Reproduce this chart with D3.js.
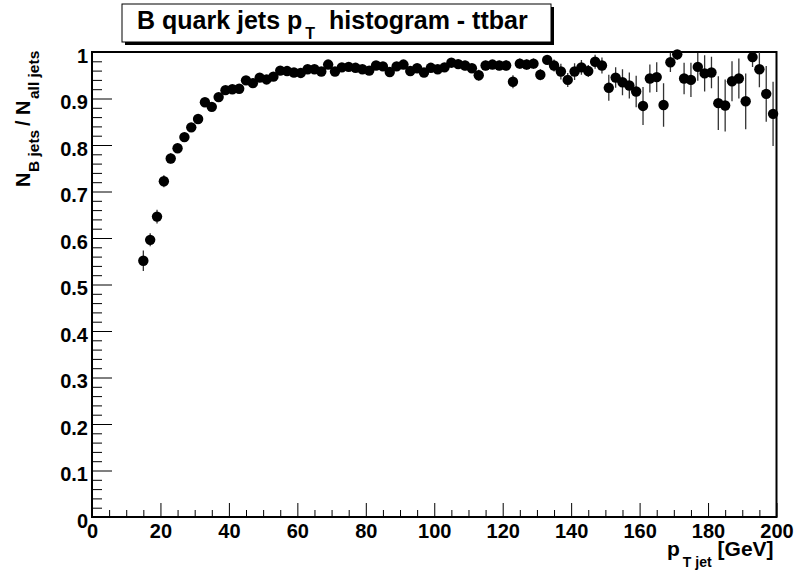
<!DOCTYPE html>
<html>
<head>
<meta charset="utf-8">
<script src="https://cdn.jsdelivr.net/npm/d3@7"></script>
<style>
  body { margin: 0; background: #fff; }
  svg text { font-family: "Liberation Sans", Arial, sans-serif; font-weight: bold; fill: #000; }
</style>
</head>
<body>
<div id="graph"></div>
<script>
// bin centres (GeV) and ratio values
var binCenters = [15,17,19,21,23,25,27,29,31,33,35,37,39,41,43,45,47,49,51,53,
  55,57,59,61,63,65,67,69,71,73,75,77,79,81,83,85,87,89,91,93,95,97,99,101,103,
  105,107,109,111,113,115,117,119,121,123,125,127,129,131,133,135,137,139,141,143,
  145,147,149,151,153,155,157,159,161,163,165,167,169,171,173,175,177,179,181,183,
  185,187,189,191,193,195,197,199];

var ratio = [0.551,0.596,0.646,0.722,0.771,0.793,0.817,0.838,0.856,0.892,0.882,0.903,
  0.918,0.920,0.921,0.939,0.933,0.945,0.941,0.947,0.960,0.959,0.956,0.955,0.963,0.963,
  0.958,0.973,0.958,0.967,0.968,0.966,0.963,0.960,0.971,0.969,0.957,0.969,0.973,0.959,
  0.965,0.956,0.966,0.963,0.967,0.977,0.974,0.971,0.965,0.950,0.971,0.973,0.971,0.971,
  0.936,0.975,0.973,0.975,0.951,0.983,0.971,0.958,0.940,0.958,0.967,0.959,0.979,0.971,
  0.923,0.945,0.935,0.928,0.915,0.884,0.943,0.946,0.886,0.978,0.995,0.943,0.940,0.968,
  0.954,0.956,0.890,0.885,0.937,0.943,0.894,0.989,0.963,0.910,0.867];

var ratioErr = [0.022,0.014,0.015,0.013,0.011,0.010,0.009,0.009,0.008,0.007,0.007,0.007,
  0.006,0.006,0.006,0.006,0.006,0.006,0.006,0.006,0.006,0.006,0.006,0.006,0.006,0.006,
  0.007,0.007,0.007,0.007,0.007,0.007,0.007,0.007,0.008,0.008,0.008,0.008,0.008,0.008,
  0.008,0.009,0.009,0.009,0.009,0.009,0.010,0.010,0.010,0.012,0.010,0.010,0.010,0.011,
  0.014,0.011,0.011,0.011,0.012,0.010,0.013,0.017,0.015,0.018,0.016,0.013,0.015,0.017,
  0.028,0.022,0.028,0.028,0.034,0.041,0.030,0.032,0.047,0.021,0.012,0.034,0.037,0.030,
  0.039,0.034,0.058,0.056,0.043,0.043,0.060,0.021,0.039,0.060,0.069];

var xMajor = [0,20,40,60,80,100,120,140,160,180,200];
var yMajor = [0,0.1,0.2,0.3,0.4,0.5,0.6,0.7,0.8,0.9,1];

var W = 798, H = 576;
var frame = {left: 92, right: 776.5, top: 52, bottom: 517};

var svg = d3.select("#graph").append("svg")
  .attr("width", W)
  .attr("height", H);

var x = d3.scaleLinear().domain([0, 200]).range([frame.left, frame.right]);
var y = d3.scaleLinear().domain([0, 1]).range([frame.bottom, frame.top]);

var data = binCenters.map(function(c, i) {
  return {x: c, v: ratio[i], e: ratioErr[i]};
});

// title box with shadow
svg.append("rect")
  .attr("x", 125).attr("y", 7).attr("width", 429).attr("height", 38)
  .attr("fill", "#000");
svg.append("rect")
  .attr("x", 122).attr("y", 4).attr("width", 429).attr("height", 38)
  .attr("fill", "#fff").attr("stroke", "#000").attr("stroke-width", 1);

var title = svg.append("text")
  .attr("x", 137).attr("y", 28.5)
  .style("font-size", "25px");
title.append("tspan").text("B quark jets p");
title.append("tspan").attr("dx", 3).attr("dy", 10.5).style("font-size", "16px").text("T");
title.append("tspan").attr("dx", 7).attr("dy", -10.5).text(" histogram - ttbar");

// minor ticks
var yMinor = d3.range(0, 1.0001, 0.02).filter(function(t) {
  return Math.abs(t * 10 - Math.round(t * 10)) > 1e-6;
});
var xMinor = d3.range(0, 200.001, 5).filter(function(t) { return t % 20 !== 0; });

svg.append("g")
  .attr("class", "y axis minor")
  .attr("transform", "translate(" + frame.left + ",0)")
  .call(d3.axisLeft(y).tickValues(yMinor).tickSize(-10).tickFormat(""))
  .call(function(g) { g.select(".domain").remove(); });

svg.append("g")
  .attr("class", "x axis minor")
  .attr("transform", "translate(0," + frame.bottom + ")")
  .call(d3.axisBottom(x).tickValues(xMinor).tickSize(-7).tickFormat(""))
  .call(function(g) { g.select(".domain").remove(); });

var yAxis = svg.append("g")
  .attr("class", "y axis")
  .attr("transform", "translate(" + frame.left + ",0)")
  .call(d3.axisLeft(y).tickValues(yMajor).tickSize(-20).tickPadding(4)
    .tickFormat(function(d) { return d === 0 || d === 1 ? d3.format("d")(d) : d3.format(".1f")(d); }));
yAxis.select(".domain").remove();
yAxis.selectAll("text")
  .attr("dy", "0.5em")
  .style("font-size", "20px")
  .style("font-family", null);

var xAxis = svg.append("g")
  .attr("class", "x axis")
  .attr("transform", "translate(0," + frame.bottom + ")")
  .call(d3.axisBottom(x).tickValues(xMajor).tickSize(-14).tickPadding(7));
xAxis.select(".domain").remove();
xAxis.selectAll("text")
  .style("font-size", "20px")
  .style("font-family", null);

svg.selectAll(".axis line").attr("stroke", "#000").attr("stroke-width", 1);

// frame
svg.append("rect")
  .attr("x", frame.left).attr("y", frame.top)
  .attr("width", frame.right - frame.left).attr("height", frame.bottom - frame.top)
  .attr("fill", "none").attr("stroke", "#000").attr("stroke-width", 2);

// axis titles
var yTitle = svg.append("text")
  .attr("transform", "translate(30,187) rotate(-90)")
  .style("font-size", "20px");
yTitle.append("tspan").attr("x", 0).attr("y", 0).text("N");
yTitle.append("tspan").attr("x", 15).attr("y", 9).style("font-size", "15.5px").text("B jets");
yTitle.append("tspan").attr("x", 61).attr("y", 0).text("/ N");
yTitle.append("tspan").attr("x", 88).attr("y", 9).style("font-size", "15.5px").text("all jets");

var xTitle = svg.append("text")
  .attr("x", 667).attr("y", 556)
  .style("font-size", "21px");
xTitle.append("tspan").text("p");
xTitle.append("tspan").attr("dx", 3).attr("dy", 11).style("font-size", "14px").text("T jet");
xTitle.append("tspan").attr("dx", 6).attr("dy", -11).text("[GeV]");

// data
svg.append("clipPath").attr("id", "plotclip")
  .append("rect")
  .attr("x", frame.left).attr("y", frame.top)
  .attr("width", frame.right - frame.left).attr("height", frame.bottom - frame.top);

var pts = svg.append("g").attr("class", "points");

pts.append("g").attr("clip-path", "url(#plotclip)")
  .selectAll("line")
  .data(data)
  .enter().append("line")
  .attr("x1", function(d) { return x(d.x); })
  .attr("x2", function(d) { return x(d.x); })
  .attr("y1", function(d) { return y(d.v - d.e); })
  .attr("y2", function(d) { return y(d.v + d.e); })
  .attr("stroke", "#333")
  .attr("stroke-width", 1.3);

pts.selectAll("circle")
  .data(data)
  .enter().append("circle")
  .attr("cx", function(d) { return x(d.x); })
  .attr("cy", function(d) { return y(d.v); })
  .attr("r", 5.2)
  .attr("fill", "#000");
</script>
</body>
</html>
